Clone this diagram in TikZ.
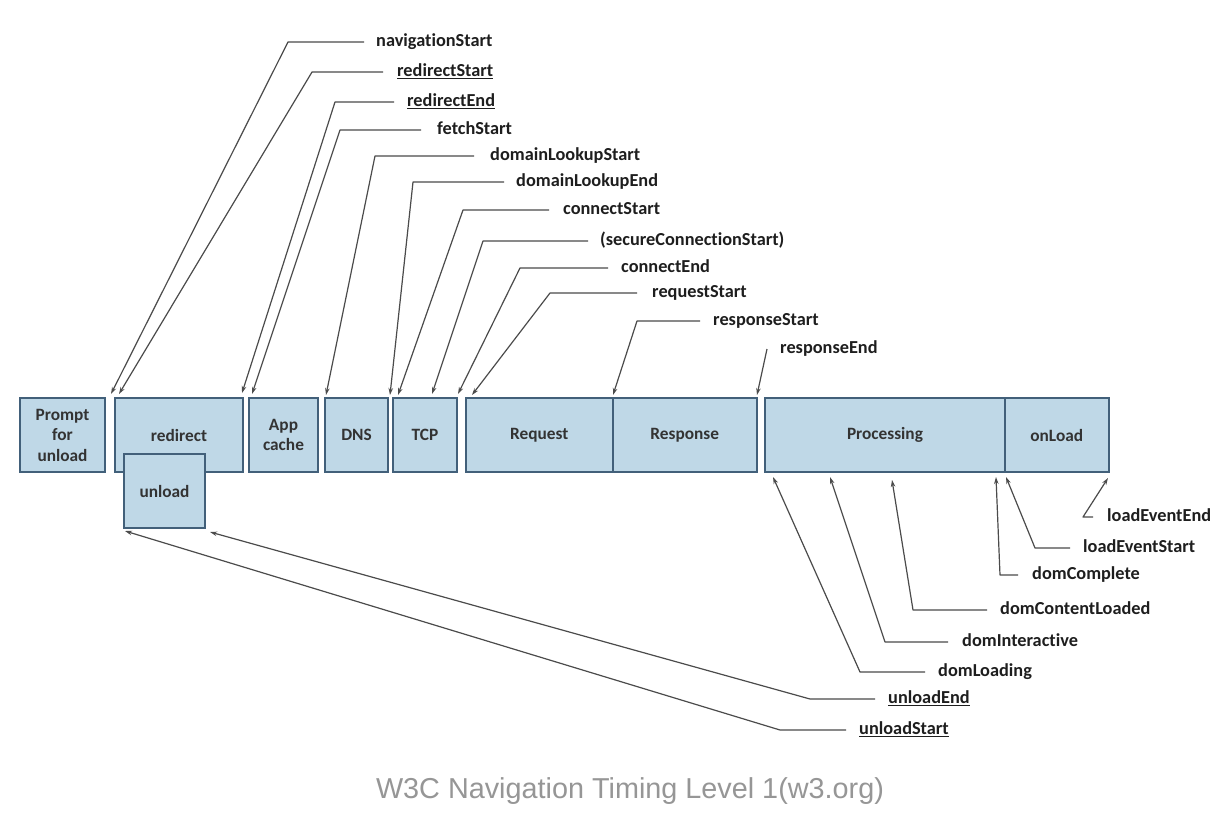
\documentclass[tikz,border=0pt]{standalone}
\usepackage{fontspec}
\setmainfont{Carlito}[Ligatures=NoCommon]
\newfontfamily\capfont{Liberation Sans}
\usetikzlibrary{arrows.meta}
\definecolor{boxfill}{RGB}{191,216,231}
\definecolor{boxline}{RGB}{66,96,122}
\definecolor{leader}{RGB}{75,75,75}
\definecolor{captxt}{RGB}{150,150,150}
\definecolor{lbltxt}{RGB}{30,30,30}
\begin{document}
\begin{tikzpicture}[x=1pt,y=-1pt,
  stage/.style={draw=boxline, fill=boxfill, line width=2pt, inner sep=0pt,
    font=\fontsize{17.3}{20.5}\selectfont\bfseries, text=black!80, align=center},
  lbl/.style={anchor=west, inner sep=0pt, text height=13pt, text depth=4pt,
    font=\fontsize{18.3}{21}\selectfont\bfseries, text=lbltxt},
  lead/.style={draw=leader, line width=1.2pt, line join=round,
    -{Stealth[length=7pt,width=4.5pt]}},
]
\useasboundingbox[fill=white] (0,0) rectangle (1224,814);

% ---------- stage boxes ----------
\node[stage, minimum width=85pt,  minimum height=74pt] (prompt)     at (62.5,435)   {Prompt\\for\\unload};
\node[stage, minimum width=128pt, minimum height=74pt] (redirect)   at (179,435)    {redirect};
\node[stage, minimum width=81pt,  minimum height=74pt] (unload)     at (164.5,491)  {unload};
\node[stage, minimum width=69pt,  minimum height=74pt] (appcache)   at (283.5,435)  {App\\cache};
\node[stage, minimum width=63pt,  minimum height=74pt] (dns)        at (356.5,435)  {DNS};
\node[stage, minimum width=64pt,  minimum height=74pt] (tcp)        at (425,435)    {TCP};
\node[stage, minimum width=146.5pt, minimum height=74pt] (request)  at (539.25,435) {Request};
\node[stage, minimum width=144.5pt, minimum height=74pt] (response) at (684.75,435) {Response};
\node[stage, minimum width=240pt, minimum height=74pt] (processing) at (885,435)    {Processing};
\node[stage, minimum width=103.5pt, minimum height=74pt] (onload)   at (1056.75,435) {onLoad};

% ---------- arrow tip coordinates ----------
\coordinate (tNav)   at (111,394);
\coordinate (tRS)    at (119,394);
\coordinate (tRE)    at (242,393);
\coordinate (tFS)    at (252,394);
\coordinate (tDLS)   at (326,395);
\coordinate (tDLE)   at (390,395);
\coordinate (tCS)    at (398,395);
\coordinate (tSCS)   at (432,394);
\coordinate (tCE)    at (458,394);
\coordinate (tReqS)  at (472,395);
\coordinate (tResS)  at (613,395);
\coordinate (tResE)  at (757,395);

\coordinate (tLEE)   at (1108,478);
\coordinate (tLES)   at (1006,477);
\coordinate (tDC)    at (996,477);
\coordinate (tDCL)   at (892,480);
\coordinate (tDI)    at (830,477);
\coordinate (tDL)    at (773,477);
\coordinate (tUE)    at (210,532);
\coordinate (tUS)    at (125,531);

% ---------- top labels ----------
\node[lbl] (navigationStart)  at (376,42)  {navigationStart};
\node[lbl] (redirectStart)    at (397,72)  {\underline{redirectStart}};
\node[lbl] (redirectEnd)      at (407,102) {\underline{redirectEnd}};
\node[lbl] (fetchStart)       at (437,130) {fetchStart};
\node[lbl] (domainLookupStart) at (490,156) {domainLookupStart};
\node[lbl] (domainLookupEnd)  at (516,182) {domainLookupEnd};
\node[lbl] (connectStart)     at (563,210) {connectStart};
\node[lbl] (secureConnectionStart) at (600,241) {(secureConnectionStart)};
\node[lbl] (connectEnd)       at (621,268) {connectEnd};
\node[lbl] (requestStart)     at (652,293) {requestStart};
\node[lbl] (responseStart)    at (713,321) {responseStart};
\node[lbl] (responseEnd)      at (780,349) {responseEnd};

\draw[lead] ([xshift=-12pt]navigationStart.west) -- (288,42)  -- (tNav);
\draw[lead] ([xshift=-14pt]redirectStart.west)   -- (312,72)  -- (tRS);
\draw[lead] ([xshift=-13pt]redirectEnd.west)     -- (335,102) -- (tRE);
\draw[lead] ([xshift=-16pt]fetchStart.west)      -- (340,130) -- (tFS);
\draw[lead] ([xshift=-16pt]domainLookupStart.west) -- (375,156) -- (tDLS);
\draw[lead] ([xshift=-12pt]domainLookupEnd.west) -- (413,182) -- (tDLE);
\draw[lead] ([xshift=-14pt]connectStart.west)    -- (463,210) -- (tCS);
\draw[lead] ([xshift=-12pt]secureConnectionStart.west) -- (483,241) -- (tSCS);
\draw[lead] ([xshift=-13pt]connectEnd.west)      -- (520,268) -- (tCE);
\draw[lead] ([xshift=-15pt]requestStart.west)    -- (550,293) -- (tReqS);
\draw[lead] ([xshift=-13pt]responseStart.west)   -- (637,321) -- (tResS);
\draw[lead] ([xshift=-13pt]responseEnd.west)     -- (tResE);

% ---------- bottom labels ----------
\node[lbl] (loadEventEnd)     at (1107,517) {loadEventEnd};
\node[lbl] (loadEventStart)   at (1083,548) {loadEventStart};
\node[lbl] (domComplete)      at (1032,575) {domComplete};
\node[lbl] (domContentLoaded) at (1000,610) {domContentLoaded};
\node[lbl] (domInteractive)   at (962,642)  {domInteractive};
\node[lbl] (domLoading)       at (938,672)  {domLoading};
\node[lbl] (unloadEnd)        at (888,699)  {\underline{unloadEnd}};
\node[lbl] (unloadStart)      at (859,730)  {\underline{unloadStart}};

\draw[lead] ([xshift=-14pt]loadEventEnd.west)     -- (1083,517) -- (tLEE);
\draw[lead] ([xshift=-13pt]loadEventStart.west)   -- (1035,548) -- (tLES);
\draw[lead] ([xshift=-14pt]domComplete.west)      -- (1000,575) -- (tDC);
\draw[lead] ([xshift=-13pt]domContentLoaded.west) -- (913,610)  -- (tDCL);
\draw[lead] ([xshift=-14pt]domInteractive.west)   -- (885,642)  -- (tDI);
\draw[lead] ([xshift=-13pt]domLoading.west)       -- (860,672)  -- (tDL);
\draw[lead] ([xshift=-13pt]unloadEnd.west)        -- (810,699)  -- (tUE);
\draw[lead] ([xshift=-13pt]unloadStart.west)      -- (780,730)  -- (tUS);

% ---------- caption ----------
\node[font=\capfont\fontsize{28.8}{33}\selectfont, text=captxt, inner sep=0pt] (caption) at (630,791)
  {W3C Navigation Timing Level 1(w3.org)};
\end{tikzpicture}
\end{document}
